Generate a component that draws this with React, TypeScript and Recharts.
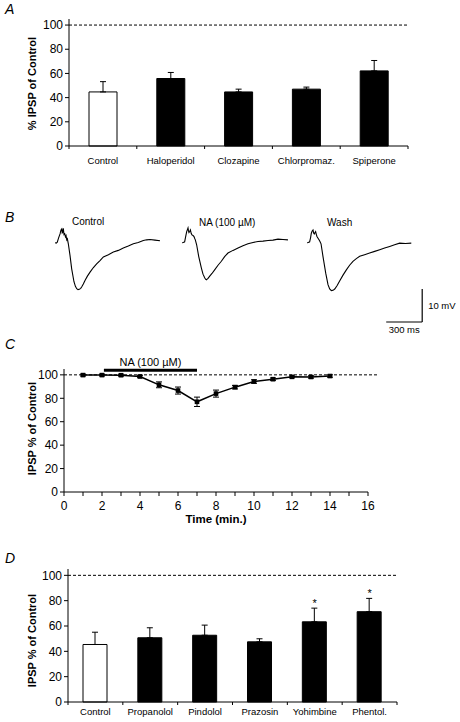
import React from 'react';
import {
  Bar,
  Cell,
  ComposedChart,
  Line,
  LineChart,
  XAxis,
  YAxis,
  ErrorBar,
  ReferenceLine,
} from 'recharts';

const FONT = '"Liberation Sans", Arial, Helvetica, sans-serif';
const INK = '#000';

// A: antipsychotics, % IPSP of control (mean, upper SEM)
const drugsA = ['Control', 'Haloperidol', 'Clozapine', 'Chlorpromaz.', 'Spiperone'];
const meanA = [44.7, 55.8, 44.7, 47, 62.1];
const semA = [8.5, 5, 2.3, 1.7, 8.6];

// B: example IPSP traces, time (ms) vs potential (mV, from baseline)
const ctrlT = [0, 10, 19, 30, 42, 50, 56, 60, 64, 69, 75, 81, 87, 92, 98, 103, 111, 125, 139, 158, 170, 181, 192, 203, 214, 222, 236, 250, 270, 292, 320, 347, 375, 403, 445, 486, 528, 569, 611, 653, 694, 736, 764, 792, 833, 875];
const ctrlV = [0, -0.1, 0.2, 1.5, 2.7, 3.9, 4.2, 3.0, 3.2, 4.4, 2.5, 2.7, 1.8, 2.2, 0.9, 1.2, -0.3, -3.8, -7.9, -11.8, -13.2, -13.9, -14.2, -14.1, -13.8, -13.4, -12.5, -11.4, -10.1, -8.9, -7.5, -6.4, -5.4, -4.3, -3.6, -2.8, -2.3, -1.6, -1.0, -0.3, 0.1, 0.7, 0.9, 1.0, 0.8, 0.6];
const naT = [0, 12, 22, 30, 39, 45, 50, 54, 58, 64, 70, 77, 83, 92, 100, 106, 111, 122, 139, 161, 175, 189, 196, 203, 217, 231, 250, 272, 300, 328, 355, 383, 425, 467, 508, 550, 592, 633, 675, 717, 758, 800, 842, 883];
const naV = [0, 0.1, 0.3, 1.8, 3.4, 4.0, 4.5, 3.6, 3.1, 3.4, 3.9, 2.8, 2.4, 2.2, 1.9, 1.3, 0.9, -0.6, -4.1, -7.6, -9.5, -10.6, -11.0, -11.2, -10.8, -10.1, -9.3, -8.2, -6.8, -5.6, -4.2, -3.1, -2.3, -1.6, -0.9, -0.3, 0.1, 0.4, 0.5, 0.7, 0.8, 1.1, 1.0, 0.9];
const washT = [0, 12, 22, 30, 36, 43, 50, 55, 61, 67, 72, 78, 83, 92, 100, 108, 117, 133, 156, 175, 189, 203, 217, 231, 250, 272, 300, 328, 355, 383, 411, 439, 480, 522, 564, 606, 647, 689, 730, 772, 820, 869];
const washV = [0, 0.1, 0.3, 1.6, 2.9, 3.6, 3.9, 3.0, 2.7, 3.1, 3.4, 2.5, 1.9, 1.4, 0.9, 0.4, -0.3, -4.1, -9.2, -12.7, -14.0, -14.5, -14.4, -14.0, -13.0, -11.6, -9.8, -8.2, -6.8, -5.6, -4.8, -4.1, -3.6, -3.1, -2.6, -2.1, -1.6, -1.1, -0.6, -0.1, -0.2, -0.1];

// C: time course of NA effect
const minutesC = [1, 2, 3, 4, 5, 6, 7, 8, 9, 10, 11, 12, 13, 14];
const meanC = [99.8, 99.8, 99.7, 98.6, 91.5, 86.6, 77, 84, 89.5, 94.3, 96.3, 98.3, 98.2, 99];
const semC = [0.8, 0.8, 0.8, 1, 2.5, 3, 4, 3, 1.5, 1.5, 1, 0.8, 1, 1];

// D: adrenergic antagonists
const drugsD = ['Control', 'Propanolol', 'Pindolol', 'Prazosin', 'Yohimbine', 'Phentol.'];
const meanD = [45.4, 50.7, 52.7, 47.5, 63.3, 71.3];
const semD = [9.7, 7.9, 8, 2.4, 10.8, 10.5];
const sigD = [false, false, false, false, true, true];

const PX_PER_MS = 0.12;
const PX_PER_MV = 3.3;

const rowsA = drugsA.map((name, i) => ({ name, mean: meanA[i], err: [0, semA[i]] }));
const rowsC = minutesC.map((t, i) => ({ t, mean: meanC[i], err: semC[i] }));
const rowsD = drugsD.map((name, i) => ({
  name,
  mean: meanD[i],
  err: [0, semD[i]],
  star: sigD[i] ? meanD[i] + semD[i] + 5 : null,
}));
const toRows = (t: number[], v: number[]) => t.map((ms, i) => ({ ms, mv: v[i] }));

const tickFont = { fill: INK, fontSize: 12, fontFamily: FONT };
const yLabel = (value: string, dy = 0) => ({
  value,
  angle: -90,
  position: 'center' as const,
  dx: -2,
  dy,
  fill: INK,
  fontSize: 11,
  fontWeight: 'bold',
  fontFamily: FONT,
});

const PanelLetter = ({ ch, top }: { ch: string; top: number }) => (
  <div style={{ position: 'absolute', left: 5, top, fontSize: 14, fontStyle: 'italic', lineHeight: 1 }}>{ch}</div>
);

// category label plus Excel-style tick marks on the category boundaries
const CatTick = (props: any) => {
  const { x, y, payload, index, band, gap } = props;
  const axisY = y - gap;
  return (
    <g>
      {index === 0 && <line x1={x - band / 2} x2={x - band / 2} y1={axisY} y2={axisY + 3} stroke={INK} />}
      <line x1={x + band / 2} x2={x + band / 2} y1={axisY} y2={axisY + 3} stroke={INK} />
      <text x={x} y={y} dy="0.71em" textAnchor="middle" fill={INK} fontSize={9.5} fontFamily={FONT}>
        {payload.value}
      </text>
    </g>
  );
};

const BarPanel = ({ rows, barSize, height, margin, yWidth, catHeight, gap, stars }: any) => {
  const band = (460 - margin.left - margin.right - yWidth) / rows.length;
  return (
    <ComposedChart width={460} height={height} data={rows} margin={margin}>
      <XAxis
        dataKey="name"
        height={catHeight}
        stroke={INK}
        tickLine={false}
        tickSize={0}
        tickMargin={gap}
        interval={0}
        tick={<CatTick band={band} gap={gap} />}
      />
      <YAxis
        width={yWidth}
        domain={[0, 105]}
        ticks={[0, 20, 40, 60, 80, 100]}
        tickSize={4}
        tickMargin={2}
        stroke={INK}
        tick={tickFont}
        label={yLabel(stars ? 'IPSP % of Control' : '% IPSP of Control', stars ? 5 : 1)}
      />
      <ReferenceLine y={100} stroke={INK} strokeDasharray="3 2" />
      <Bar dataKey="mean" barSize={barSize} stroke={INK} strokeWidth={1} isAnimationActive={false}>
        {rows.map((_r: any, i: number) => (
          <Cell key={i} fill={i === 0 ? '#fff' : INK} />
        ))}
        <ErrorBar dataKey="err" width={3} stroke={INK} strokeWidth={1} direction="y" />
      </Bar>
      {stars && (
        <Line
          dataKey="star"
          stroke="none"
          isAnimationActive={false}
          dot={(p: any) =>
            p.value == null ? <g key={p.index} /> : (
              <text key={p.index} x={p.cx} y={p.cy + 5} textAnchor="middle" fontSize={11} fontFamily={FONT} fill={INK}>*</text>
            )
          }
        />
      )}
    </ComposedChart>
  );
};

const Trace = ({ rows, xMax, yMin, children }: any) => (
  <LineChart
    width={xMax * PX_PER_MS}
    height={(6 - yMin) * PX_PER_MV}
    data={rows}
    margin={{ top: 0, right: 0, bottom: 0, left: 0 }}
  >
    <XAxis type="number" dataKey="ms" domain={[0, xMax]} hide />
    <YAxis domain={[yMin, 6]} hide allowDataOverflow />
    <Line dataKey="mv" type="linear" stroke={INK} strokeWidth={1.1} dot={false} isAnimationActive={false} />
    {children}
  </LineChart>
);

const SquareDot = (p: any) => (
  <rect key={p.index} x={p.cx - 2.3} y={p.cy - 2.3} width={4.6} height={4.6} fill={INK} />
);

export default function App() {
  const traceTop = 243 - 6 * PX_PER_MV;
  const label = { position: 'absolute' as const, fontSize: 10, lineHeight: 1 };
  return (
    <div style={{ position: 'absolute', left: 0, top: 0, width: 460, height: 722, background: '#fff', fontFamily: FONT, color: INK }}>
      <PanelLetter ch="A" top={2} />
      <div style={{ position: 'absolute', left: 0, top: 0 }}>
        <BarPanel
          rows={rowsA}
          barSize={28}
          height={175}
          margin={{ top: 19, right: 52, bottom: 4, left: 0 }}
          yWidth={69}
          catHeight={25}
          gap={11}
          stars={false}
        />
      </div>

      <PanelLetter ch="B" top={210} />
      <div style={{ ...label, left: 72, top: 217 }}>Control</div>
      <div style={{ ...label, left: 199, top: 218 }}>NA (100 µM)</div>
      <div style={{ ...label, left: 327, top: 218 }}>Wash</div>
      <div style={{ position: 'absolute', left: 55, top: traceTop }}>
        <Trace rows={toRows(ctrlT, ctrlV)} xMax={900} yMin={-17} />
      </div>
      <div style={{ position: 'absolute', left: 182, top: traceTop }}>
        <Trace rows={toRows(naT, naV)} xMax={900} yMin={-17} />
      </div>
      <div style={{ position: 'absolute', left: 307, top: traceTop }}>
        <Trace rows={toRows(washT, washV)} xMax={1275} yMin={-30}>
          <ReferenceLine
            segment={[{ x: 660, y: -24 }, { x: 960, y: -24 }]}
            stroke={INK}
            strokeWidth={1.2}
            label={{ value: '300 ms', position: 'bottom', offset: 4, fill: INK, fontSize: 9.5, fontFamily: FONT }}
          />
          <ReferenceLine
            segment={[{ x: 960, y: -24 }, { x: 960, y: -14 }]}
            stroke={INK}
            strokeWidth={1.2}
            label={{ value: '10 mV', position: 'right', offset: 6, fill: INK, fontSize: 9.5, fontFamily: FONT }}
          />
        </Trace>
      </div>

      <PanelLetter ch="C" top={337} />
      <div style={{ position: 'absolute', left: 0, top: 330 }}>
        <ComposedChart width={460} height={195} data={rowsC} margin={{ top: 39, right: 92, bottom: 2, left: 0 }}>
          <XAxis
            type="number"
            dataKey="t"
            domain={[0, 16]}
            ticks={Array.from({ length: 17 }, (_, i) => i)}
            tickFormatter={(v: number) => (v % 2 === 0 ? String(v) : '')}
            height={31}
            tickSize={4}
            tickMargin={5}
            stroke={INK}
            tick={tickFont}
            label={{ value: 'Time (min.)', position: 'insideBottom', offset: 0, fill: INK, fontSize: 11.5, fontWeight: 'bold', fontFamily: FONT }}
          />
          <YAxis
            width={64}
            domain={[0, 105]}
            ticks={[0, 20, 40, 60, 80, 100]}
            tickSize={4}
            tickMargin={2}
            stroke={INK}
            tick={tickFont}
            label={{ ...yLabel('IPSP % of Control', -2), dx: 0 }}
          />
          <ReferenceLine
            segment={[{ x: 0, y: 100 }, { x: 16.5, y: 100 }]}
            ifOverflow="visible"
            stroke={INK}
            strokeDasharray="3 2"
          />
          <ReferenceLine
            segment={[{ x: 2.1, y: 104 }, { x: 7, y: 104 }]}
            stroke={INK}
            strokeWidth={3}
            label={{ value: 'NA (100 µM)', position: 'top', offset: 4, fill: INK, fontSize: 11, fontFamily: FONT }}
          />
          <Line dataKey="mean" type="linear" stroke={INK} strokeWidth={1.5} dot={SquareDot} isAnimationActive={false}>
            <ErrorBar dataKey="err" width={3} stroke={INK} strokeWidth={1} direction="y" />
          </Line>
        </ComposedChart>
      </div>

      <PanelLetter ch="D" top={551} />
      <div style={{ position: 'absolute', left: 0, top: 530 }}>
        <BarPanel
          rows={rowsD}
          barSize={24}
          height={192}
          margin={{ top: 39, right: 63, bottom: 1, left: 0 }}
          yWidth={68}
          catHeight={19}
          gap={6}
          stars
        />
      </div>
    </div>
  );
}
